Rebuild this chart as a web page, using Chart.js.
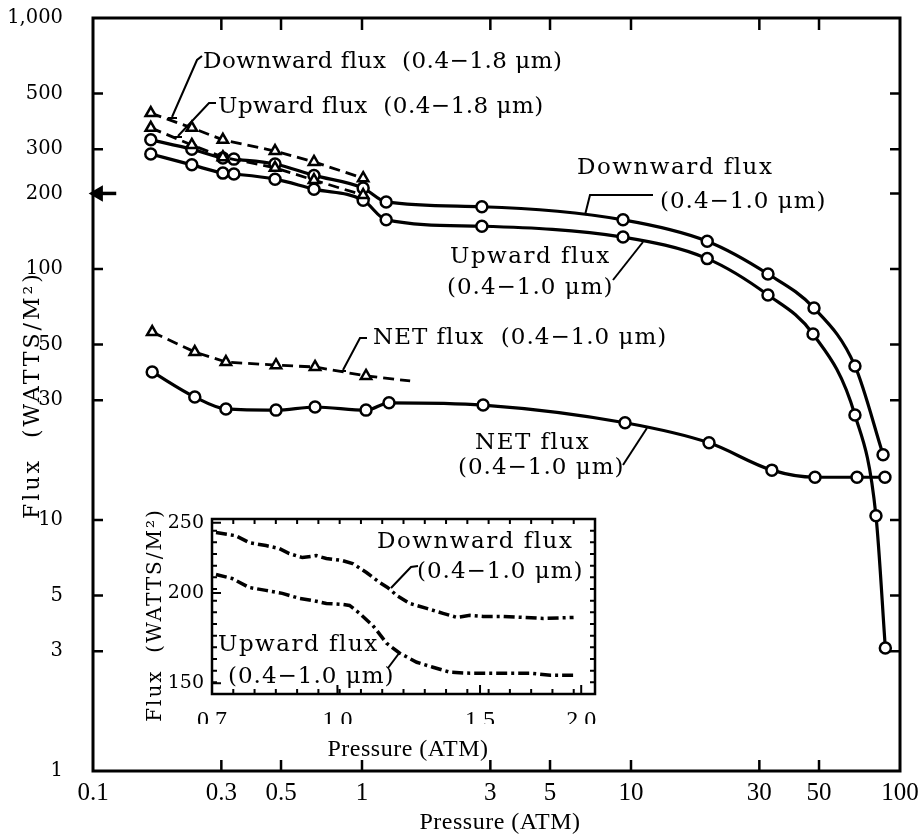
<!DOCTYPE html>
<html>
<head>
<meta charset="utf-8">
<script src="https://cdn.jsdelivr.net/npm/chart.js@4.4.1/dist/chart.umd.min.js"></script>
<style>
    html, body { margin: 0; padding: 0; background: #fff; }
    #quadro { position: relative; width: 921px; height: 835px; }
    #quadro canvas { position: absolute; left: 0; top: 0; }
</style>
</head>
<body>
<div id="quadro">
    <canvas id="graficoPrincipal" width="921" height="835"></canvas>
    <canvas id="graficoDetalhe" width="921" height="835"></canvas>
</div>
<script>
// Fluxo (W/m²) em função da pressão (atm).

// ─── Gráfico principal ────────────────────────────────────────────────────
const pressaoDesce10 = [0.164, 0.233, 0.304, 0.334, 0.475, 0.663, 1.01, 1.23, 2.79, 9.34, 19.2, 32.3, 47.9, 68.0, 86.5];
const fluxoDesce10   = [327, 300, 277, 274, 262, 236, 210, 185, 177, 157, 129, 95.5, 69.9, 41.1, 18.2];

const pressaoSobe10 = [0.164, 0.233, 0.304, 0.334, 0.475, 0.663, 1.01, 1.23, 2.79, 9.34, 19.2, 32.3, 47.5, 68.0, 81.4, 88.2];
const fluxoSobe10   = [287, 260, 241, 239, 228, 208, 188, 157, 148, 134, 110, 78.8, 55.1, 26.2, 10.4, 3.09];

const pressaoLiquido10 = [0.166, 0.239, 0.312, 0.479, 0.669, 1.035, 1.26, 2.82, 9.50, 19.5, 33.4, 48.3, 69.2, 87.9];
const fluxoLiquido10   = [38.9, 30.9, 27.7, 27.4, 28.2, 27.4, 29.3, 28.7, 24.4, 20.3, 15.8, 14.8, 14.8, 14.8];

const pressao18     = [0.164, 0.233, 0.304, 0.475, 0.663, 1.01];
const fluxoDesce18  = [418, 365, 327, 295, 267, 230];
const fluxoSobe18   = [365, 312, 279, 253, 226, 197];

const pressaoLiquido18 = [0.166, 0.239, 0.312, 0.479, 0.669, 1.035, 1.51];
const fluxoLiquido18   = [56.1, 46.7, 42.6, 41.4, 40.7, 37.5, 35.8];

// seta no eixo vertical (≈ 200 W/m²)
const pressaoSeta = [0.1045, 0.122];
const fluxoSeta   = [200, 200];

const ticksX   = [0.1, 0.3, 0.5, 1, 3, 5, 10, 30, 50, 100];
const rotulosX = ['0.1', '0.3', '0.5', '1', '3', '5', '10', '30', '50', '100'];
const ticksY   = [1, 3, 5, 10, 30, 50, 100, 200, 300, 500, 1000];
const rotulosY = ['1', '3', '5', '10', '30', '50', '100', '200', '300', '500', '1,000'];
const marcasX  = [0.3, 0.5, 1, 3, 5, 10, 30, 50];
const marcasY  = [3, 5, 10, 30, 50, 100, 200, 300, 500];

// ─── Detalhe (0.7 – 2.0 atm) ──────────────────────────────────────────────
const pressaoDetDesce = [0.708, 0.749, 0.778, 0.816, 0.848, 0.872, 0.905, 0.942, 0.969, 1.014, 1.044, 1.086, 1.127, 1.153, 1.184, 1.228, 1.289, 1.350, 1.405, 1.458, 1.513, 1.602, 1.696, 1.796, 1.957];
const fluxoDetDesce   = [242.3, 239.9, 234.7, 232.5, 230.3, 226.7, 223.8, 225.2, 223.1, 221.7, 219.6, 213.4, 206.8, 203.5, 198.4, 193.4, 190.4, 187.4, 185.0, 186.2, 185.6, 185.6, 185.0, 184.4, 185.0];

const pressaoDetSobe = [0.708, 0.741, 0.778, 0.816, 0.855, 0.897, 0.931, 0.969, 1.014, 1.035, 1.065, 1.105, 1.118, 1.150, 1.194, 1.253, 1.312, 1.377, 1.458, 1.544, 1.635, 1.730, 1.832, 1.957];
const fluxoDetSobe   = [212.1, 209.4, 203.5, 201.6, 199.7, 196.6, 195.3, 193.4, 192.8, 192.2, 187.4, 180.4, 177.6, 170.4, 165.1, 160.4, 157.9, 155.4, 154.9, 154.9, 154.9, 154.9, 153.9, 153.9];

const ticksDetX   = [0.7, 1.0, 1.5, 2.0];
const rotulosDetX = ['0.7', '1.0', '1.5', '2.0'];
const ticksDetY   = [150, 200, 250];
const rotulosDetY = ['150', '200', '250'];

const FONTE_TEXTO = '"DejaVu Serif", serif';
const FONTE_NUM   = '"Liberation Serif", serif';

function pontos(xs, ys) {
    return xs.map((x, i) => ({ x, y: ys[i] }));
}

function serieCheia(xs, ys) {
    return {
        data: pontos(xs, ys),
        borderColor: '#000',
        borderWidth: 3.2,
        pointStyle: 'circle',
        pointRadius: 5.5,
        pointBorderWidth: 2.5,
        pointBackgroundColor: '#fff',
        pointBorderColor: '#000',
        cubicInterpolationMode: 'monotone',
        showLine: true
    };
}

function serieTracejada(xs, ys, ultimoSemMarca = false) {
    return {
        data: pontos(xs, ys),
        borderColor: '#000',
        borderWidth: 2.8,
        borderDash: [11, 6],
        pointStyle: 'triangle',
        pointRadius: ys.map((_, i) => (ultimoSemMarca && i === ys.length - 1) ? 0 : 6),
        pointBorderWidth: 2.5,
        pointBackgroundColor: '#fff',
        pointBorderColor: '#000',
        showLine: true
    };
}

// tira o espaço extra que a escala reserva para os rótulos das pontas
function semSobra(s) {
    s.paddingTop = 0;
    s.paddingBottom = 0;
    s.paddingLeft = 0;
    s.paddingRight = 0;
}

function escreve(ctx, txt, x, y, fonte, espaco = '0px', alinha = 'left') {
    ctx.font = fonte;
    ctx.letterSpacing = espaco;
    ctx.textAlign = alinha;
    ctx.textBaseline = 'middle';
    ctx.fillStyle = '#000';
    ctx.fillText(txt, x, y);
}

function traco(ctx, pts) {
    ctx.beginPath();
    ctx.moveTo(pts[0][0], pts[0][1]);
    pts.slice(1).forEach((p) => ctx.lineTo(p[0], p[1]));
    ctx.stroke();
}

const molduraPrincipal = {
    id: 'molduraPrincipal',
    afterDraw(chart) {
        const { ctx, chartArea: a, scales } = chart;
        ctx.save();
        ctx.strokeStyle = '#000';
        ctx.lineWidth = 3;
        ctx.strokeRect(a.left, a.top, a.right - a.left, a.bottom - a.top);

        ctx.lineWidth = 2.5;
        ctx.beginPath();
        marcasX.forEach((v) => {
            const x = scales.x.getPixelForValue(v);
            ctx.moveTo(x, a.bottom); ctx.lineTo(x, a.bottom - 11);
            ctx.moveTo(x, a.top); ctx.lineTo(x, a.top + 12);
        });
        marcasY.forEach((v) => {
            const y = scales.y.getPixelForValue(v);
            ctx.moveTo(a.left, y); ctx.lineTo(a.left + 10, y);
            ctx.moveTo(a.right, y); ctx.lineTo(a.right - 10, y);
        });
        ctx.stroke();

        // rótulos das curvas
        const f = `23px ${FONTE_TEXTO}`;
        escreve(ctx, 'Downward flux  (0.4−1.8 μm)', 203, 62, f, '0.5px');
        escreve(ctx, 'Upward flux  (0.4−1.8 μm)', 218, 107, f, '0.5px');
        escreve(ctx, 'Downward flux', 577, 168, f, '1.5px');
        escreve(ctx, '(0.4−1.0 μm)', 660, 202, f, '1px');
        escreve(ctx, 'Upward flux', 450, 257, f, '1.5px');
        escreve(ctx, '(0.4−1.0 μm)', 447, 288, f, '1px');
        escreve(ctx, 'NET flux  (0.4−1.0 μm)', 373, 338, f, '1px');
        escreve(ctx, 'NET flux', 475, 443, f, '1.5px');
        escreve(ctx, '(0.4−1.0 μm)', 458, 468, f, '1px');

        ctx.lineWidth = 2;
        traco(ctx, [[202, 56], [197, 60], [172, 117]]);
        traco(ctx, [[168, 118], [177, 118]]);
        traco(ctx, [[216, 103], [209, 103], [178, 136]]);
        traco(ctx, [[174, 137], [182, 137]]);
        traco(ctx, [[653, 195], [590, 195], [585, 215]]);
        traco(ctx, [[613, 280], [643, 242]]);
        traco(ctx, [[367, 338], [360, 338], [343, 370]]);
        traco(ctx, [[337, 371], [346, 371]]);
        traco(ctx, [[623, 465], [647, 428]]);

        // títulos dos eixos
        escreve(ctx, 'Pressure (ATM)', 500, 823, `24px ${FONTE_NUM}`, '0.5px', 'center');
        ctx.save();
        ctx.translate(33, 395);
        ctx.rotate(-Math.PI / 2);
        escreve(ctx, 'Flux  (WATTS/M²)', 0, 0, `22px ${FONTE_TEXTO}`, '3px', 'center');
        ctx.restore();
        ctx.restore();
    }
};

new Chart(document.getElementById('graficoPrincipal'), {
    type: 'scatter',
    data: {
        datasets: [
            serieTracejada(pressao18, fluxoDesce18),
            serieTracejada(pressao18, fluxoSobe18),
            serieTracejada(pressaoLiquido18, fluxoLiquido18, true),
            serieCheia(pressaoDesce10, fluxoDesce10),
            serieCheia(pressaoSobe10, fluxoSobe10),
            serieCheia(pressaoLiquido10, fluxoLiquido10),
            {
                data: pontos(pressaoSeta, fluxoSeta),
                borderColor: '#000',
                borderWidth: 3.5,
                showLine: true,
                pointStyle: 'triangle',
                pointRadius: [6, 0],
                pointRotation: -90,
                pointBackgroundColor: '#000',
                pointBorderColor: '#000',
                clip: false
            }
        ]
    },
    options: {
        responsive: false,
        animation: false,
        layout: { padding: { top: 18, right: 21, left: 0, bottom: 0 } },
        plugins: { legend: { display: false }, tooltip: { enabled: false } },
        scales: {
            x: {
                type: 'logarithmic',
                min: 0.1,
                max: 100,
                afterBuildTicks: (s) => { s.ticks = ticksX.map((v) => ({ value: v })); },
                afterFit: (s) => { s.height = 64; semSobra(s); },
                grid: { display: false, drawTicks: false },
                border: { display: false },
                ticks: {
                    autoSkip: false,
                    maxRotation: 0,
                    padding: 7,
                    color: '#000',
                    font: { family: FONTE_NUM, size: 25 },
                    callback: (v, i) => rotulosX[i]
                }
            },
            y: {
                type: 'logarithmic',
                min: 1,
                max: 1000,
                afterBuildTicks: (s) => { s.ticks = ticksY.map((v) => ({ value: v })); },
                afterFit: (s) => { s.width = 93; semSobra(s); },
                grid: { display: false, drawTicks: false },
                border: { display: false },
                ticks: {
                    autoSkip: false,
                    padding: 30,
                    color: '#000',
                    font: { family: FONTE_TEXTO, size: 19.5 },
                    callback: (v, i) => rotulosY[i]
                }
            }
        }
    },
    plugins: [molduraPrincipal]
});

// ─── Detalhe ──────────────────────────────────────────────────────────────
const molduraDetalhe = {
    id: 'molduraDetalhe',
    afterDraw(chart) {
        const { ctx, chartArea: a, scales } = chart;
        ctx.save();
        ctx.strokeStyle = '#000';
        ctx.lineWidth = 2.5;
        ctx.strokeRect(a.left, a.top, a.right - a.left, a.bottom - a.top);

        // marcas pequenas em volta da caixa
        ctx.lineWidth = 2;
        ctx.beginPath();
        const nH = 18, nV = 15;
        for (let i = 1; i < nH; i++) {
            const x = a.left + (a.right - a.left) * i / nH;
            ctx.moveTo(x, a.top); ctx.lineTo(x, a.top + 5);
            ctx.moveTo(x, a.bottom); ctx.lineTo(x, a.bottom - 5);
        }
        for (let i = 1; i < nV; i++) {
            const y = a.top + (a.bottom - a.top) * i / nV;
            ctx.moveTo(a.left, y); ctx.lineTo(a.left + 5, y);
            ctx.moveTo(a.right, y); ctx.lineTo(a.right - 5, y);
        }
        ticksDetY.forEach((v) => {
            const y = scales.y.getPixelForValue(v);
            ctx.moveTo(a.left, y); ctx.lineTo(a.left + 9, y);
        });
        ticksDetX.forEach((v) => {
            const x = scales.x.getPixelForValue(v);
            ctx.moveTo(x, a.bottom); ctx.lineTo(x, a.bottom - 9);
        });
        ctx.stroke();

        const f = `23px ${FONTE_TEXTO}`;
        escreve(ctx, 'Downward flux', 377, 542, f, '1.5px');
        escreve(ctx, '(0.4−1.0 μm)', 417, 572, f, '1px');
        escreve(ctx, 'Upward flux', 218, 645, f, '1.5px');
        escreve(ctx, '(0.4−1.0 μm)', 228, 677, f, '1px');

        ctx.lineWidth = 2;
        traco(ctx, [[418, 566], [411, 567], [391, 588]]);
        traco(ctx, [[388, 668], [400, 652]]);

        escreve(ctx, 'Pressure (ATM)', 408, 750, `24px ${FONTE_NUM}`, '0.5px', 'center');
        ctx.save();
        ctx.translate(156, 615);
        ctx.rotate(-Math.PI / 2);
        escreve(ctx, 'Flux  (WATTS/M²)', 0, 0, `20px ${FONTE_TEXTO}`, '2px', 'center');
        ctx.restore();
        ctx.restore();
    }
};

function serieDetalhe(xs, ys) {
    return {
        data: pontos(xs, ys),
        borderColor: '#000',
        borderWidth: 3.5,
        borderDash: [11, 4, 3, 4],
        pointRadius: 0,
        showLine: true
    };
}

new Chart(document.getElementById('graficoDetalhe'), {
    type: 'scatter',
    data: {
        datasets: [
            serieDetalhe(pressaoDetDesce, fluxoDetDesce),
            serieDetalhe(pressaoDetSobe, fluxoDetSobe)
        ]
    },
    options: {
        responsive: false,
        animation: false,
        layout: { padding: { top: 519, right: 326, left: 162, bottom: 111 } },
        plugins: { legend: { display: false }, tooltip: { enabled: false } },
        scales: {
            x: {
                type: 'logarithmic',
                min: 0.7,
                max: 2.08,
                afterBuildTicks: (s) => { s.ticks = ticksDetX.map((v) => ({ value: v })); },
                afterFit: (s) => { s.height = 30; semSobra(s); },
                grid: { display: false, drawTicks: false },
                border: { display: false },
                ticks: {
                    autoSkip: false,
                    maxRotation: 0,
                    padding: 12,
                    color: '#000',
                    font: { family: FONTE_NUM, size: 24 },
                    callback: (v, i) => rotulosDetX[i]
                }
            },
            y: {
                type: 'logarithmic',
                min: 145,
                max: 253,
                afterBuildTicks: (s) => { s.ticks = ticksDetY.map((v) => ({ value: v })); },
                afterFit: (s) => { s.width = 50; semSobra(s); },
                grid: { display: false, drawTicks: false },
                border: { display: false },
                ticks: {
                    autoSkip: false,
                    padding: 8,
                    color: '#000',
                    font: { family: FONTE_TEXTO, size: 19 },
                    callback: (v, i) => rotulosDetY[i]
                }
            }
        }
    },
    plugins: [molduraDetalhe]
});
</script>
</body>
</html>
